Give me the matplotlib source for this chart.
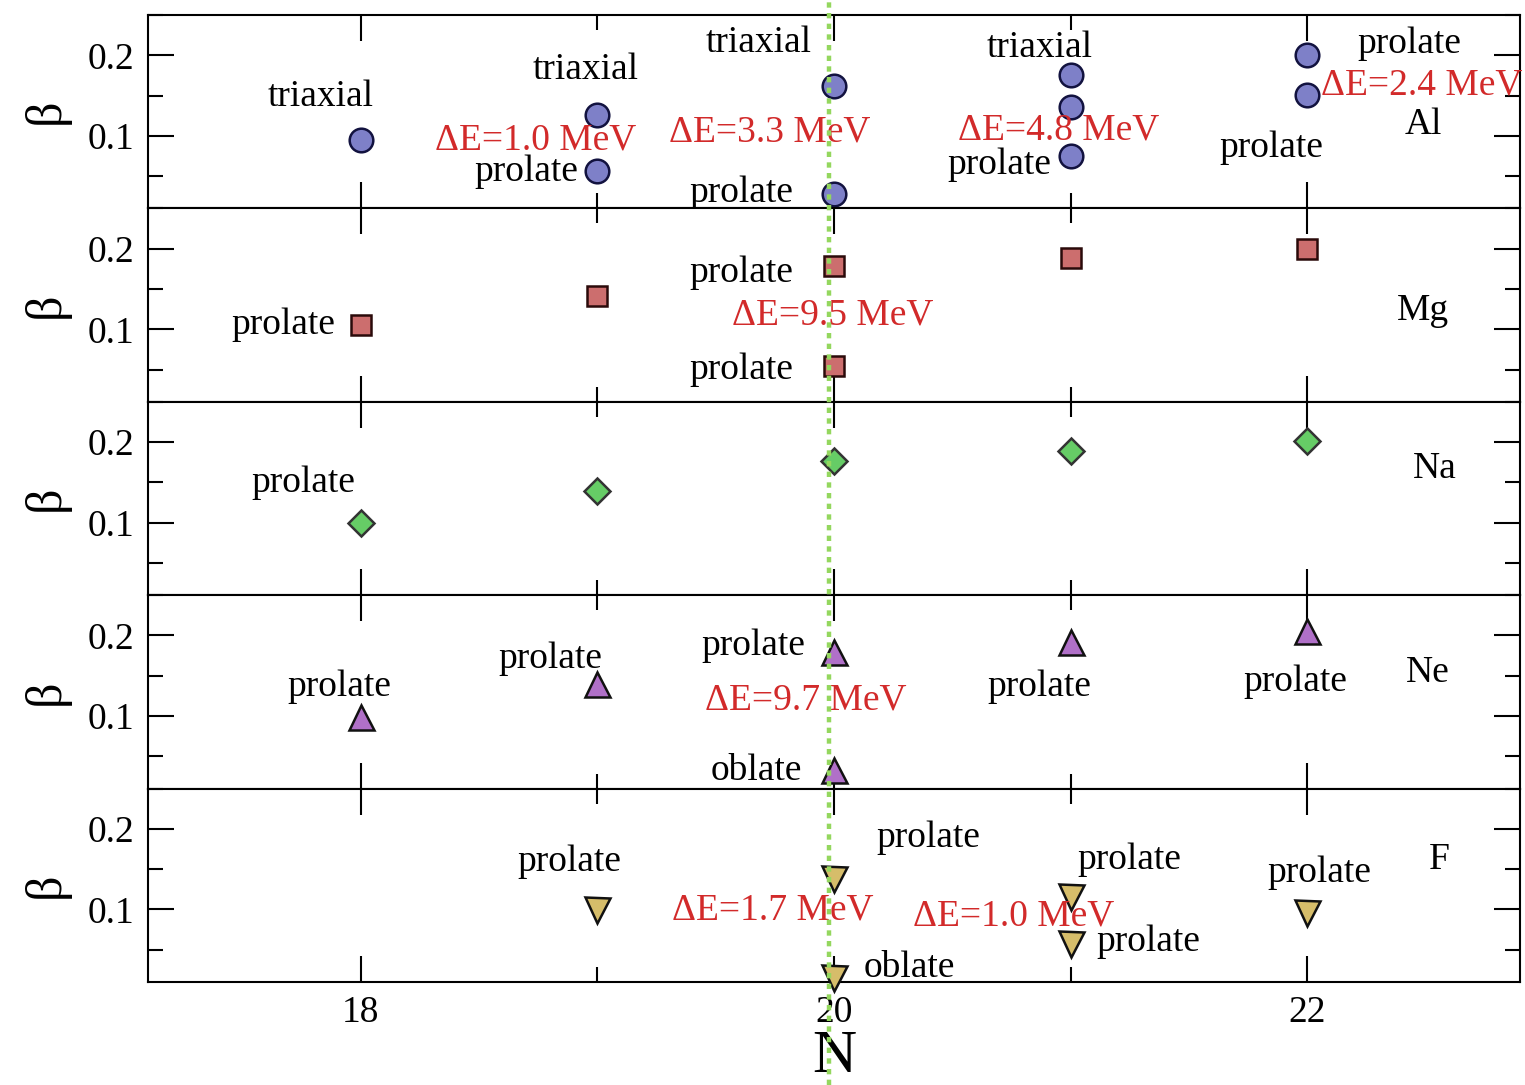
import matplotlib
matplotlib.use("Agg")
import matplotlib.pyplot as plt
from matplotlib.lines import Line2D
from matplotlib.transforms import blended_transform_factory
from matplotlib.ticker import MultipleLocator, FixedLocator

# ---------------- data ----------------
panels = ["Al", "Mg", "Na", "Ne", "F"]

al_N = [18, 19, 19, 20, 20, 21, 21, 21, 22, 22]
al_beta = [0.095, 0.126, 0.056, 0.1625, 0.028, 0.175, 0.136, 0.075, 0.200, 0.151]

mg_N = [18, 19, 20, 20, 21, 22]
mg_beta = [0.105, 0.141, 0.178, 0.054, 0.189, 0.200]

na_N = [18, 19, 20, 21, 22]
na_beta = [0.100, 0.139, 0.176, 0.189, 0.201]

ne_N = [18, 19, 20, 20, 21, 22]
ne_beta = [0.099, 0.140, 0.180, 0.033, 0.192, 0.205]

f_N = [19, 20, 20, 21, 21, 22]
f_beta = [0.099, 0.138, 0.015, 0.116, 0.057, 0.096]

# annotations: (text, N, beta, is_red)
al_labels = [("triaxial", 17.83, 0.149, False), ("triaxial", 18.95, 0.1825, False),
             ("ΔE=1.0 MeV", 18.74, 0.095, True), ("prolate", 18.70, 0.055, False),
             ("triaxial", 19.68, 0.216, False), ("ΔE=3.3 MeV", 19.73, 0.104, True),
             ("prolate", 19.61, 0.030, False), ("triaxial", 20.87, 0.209, False),
             ("ΔE=4.8 MeV", 20.95, 0.1075, True), ("prolate", 20.70, 0.064, False),
             ("prolate", 22.43, 0.214, False), ("prolate", 21.85, 0.085, False)]
al_dE_edge = ("ΔE=2.4 MeV", 22.06, 0.1625)
mg_labels = [("prolate", 17.67, 0.105, False), ("prolate", 19.61, 0.170, False),
             ("ΔE=9.5 MeV", 19.995, 0.117, True), ("prolate", 19.61, 0.050, False)]
na_labels = [("prolate", 17.755, 0.149, False)]
ne_labels = [("prolate", 17.91, 0.137, False), ("prolate", 18.80, 0.171, False),
             ("prolate", 19.66, 0.187, False), ("ΔE=9.7 MeV", 19.88, 0.120, True),
             ("oblate", 19.67, 0.032, False), ("prolate", 20.87, 0.137, False),
             ("prolate", 21.95, 0.142, False)]
f_labels = [("prolate", 18.88, 0.159, False), ("prolate", 20.40, 0.189, False),
            ("ΔE=1.7 MeV", 19.74, 0.099, True), ("oblate", 20.32, 0.028, False),
            ("prolate", 21.25, 0.162, False), ("ΔE=1.0 MeV", 20.76, 0.091, True),
            ("prolate", 21.33, 0.060, False), ("prolate", 22.05, 0.146, False)]
panel_name_pos = [(22.49, 0.114), (22.49, 0.123), (22.54, 0.1675), (22.51, 0.154), (22.56, 0.162)]

x_ticks_major = [18, 20, 22]
y_ticks_major = [0.1, 0.2]

# ---------------- style ----------------
plt.rcParams['font.family'] = ['Liberation Serif', 'DejaVu Serif']
FS = 27
RED = '#d22a2a'

series = [
    (al_N, al_beta, dict(marker='o', ms=17, mfc='#7e80c8', mec='#12123f')),
    (mg_N, mg_beta, dict(marker='s', ms=15, mfc='#cc6e6e', mec='#2a0a0a')),
    (na_N, na_beta, dict(marker='D', ms=13, mfc='#66cc66', mec='#333333')),
    (ne_N, ne_beta, dict(marker='^', ms=18, mfc='#b070c8', mec='#111111')),
    (f_N, f_beta, dict(marker='v', ms=18, mfc='#d6bd6a', mec='#111111')),
]
labels_all = [al_labels, mg_labels, na_labels, ne_labels, f_labels]

fig = plt.figure(figsize=(15.25, 10.85), dpi=100)
left, right = 148 / 1525, 1520 / 1525
top, bottom = 1 - 15 / 1085, 1 - 982 / 1085
h = (top - bottom) / 5

axes = []
for i in range(5):
    y0 = top - (i + 1) * h
    ax = fig.add_axes([left, y0, right - left, h])
    axes.append(ax)
    ax.set_xlim(17.1, 22.9)
    ax.set_ylim(0.01, 0.25)
    for sp in ax.spines.values():
        sp.set_linewidth(1.5)
    ax.xaxis.set_major_locator(FixedLocator(x_ticks_major))
    ax.xaxis.set_minor_locator(MultipleLocator(1))
    ax.yaxis.set_major_locator(FixedLocator(y_ticks_major))
    ax.yaxis.set_minor_locator(MultipleLocator(0.05))
    ax.tick_params(which='both', direction='in', top=True, right=True, width=1.5,
                   labelsize=FS, pad=10)
    ax.tick_params(which='major', length=19)
    ax.tick_params(which='minor', length=10.5)
    if i < 4:
        ax.tick_params(labelbottom=False)
    ax.set_yticklabels(['0.1', '0.2'])

    N, b, st = series[i]
    ax.plot(N, b, linestyle='none', mew=1.8, zorder=5, clip_on=False, **st)

    for (t, xx, yy, red) in labels_all[i]:
        ax.text(xx, yy, t, fontsize=FS, color=RED if red else 'black',
                ha='center', va='center', zorder=6)
    px, py = panel_name_pos[i]
    ax.text(px, py, panels[i], fontsize=FS, ha='center', va='center')

    fig.text(46 / 1525, y0 + h / 2, 'β', fontsize=36, rotation=90,
             ha='center', va='center')

axes[0].text(al_dE_edge[1], al_dE_edge[2], al_dE_edge[0], fontsize=FS, color=RED,
             ha='left', va='center', clip_on=False, zorder=6)

axes[-1].set_xticklabels(['18', '20', '22'])
# x-axis title placed in figure coordinates, centred under the axis
xlab_tr = blended_transform_factory(axes[-1].transAxes, fig.transFigure)
fig.text(0.5, 0.0, 'N', fontsize=44, ha='center', va='bottom', transform=xlab_tr)

# green dotted vertical line at N = 20 spanning the whole figure
tr = blended_transform_factory(axes[0].transData, fig.transFigure)
fig.add_artist(Line2D([19.979, 19.979], [0, 1], transform=tr, color='#94d75e',
                      lw=3.2, linestyle=(0, (1.2, 1.2)), zorder=20))

fig.savefig('out.png', dpi=100)
